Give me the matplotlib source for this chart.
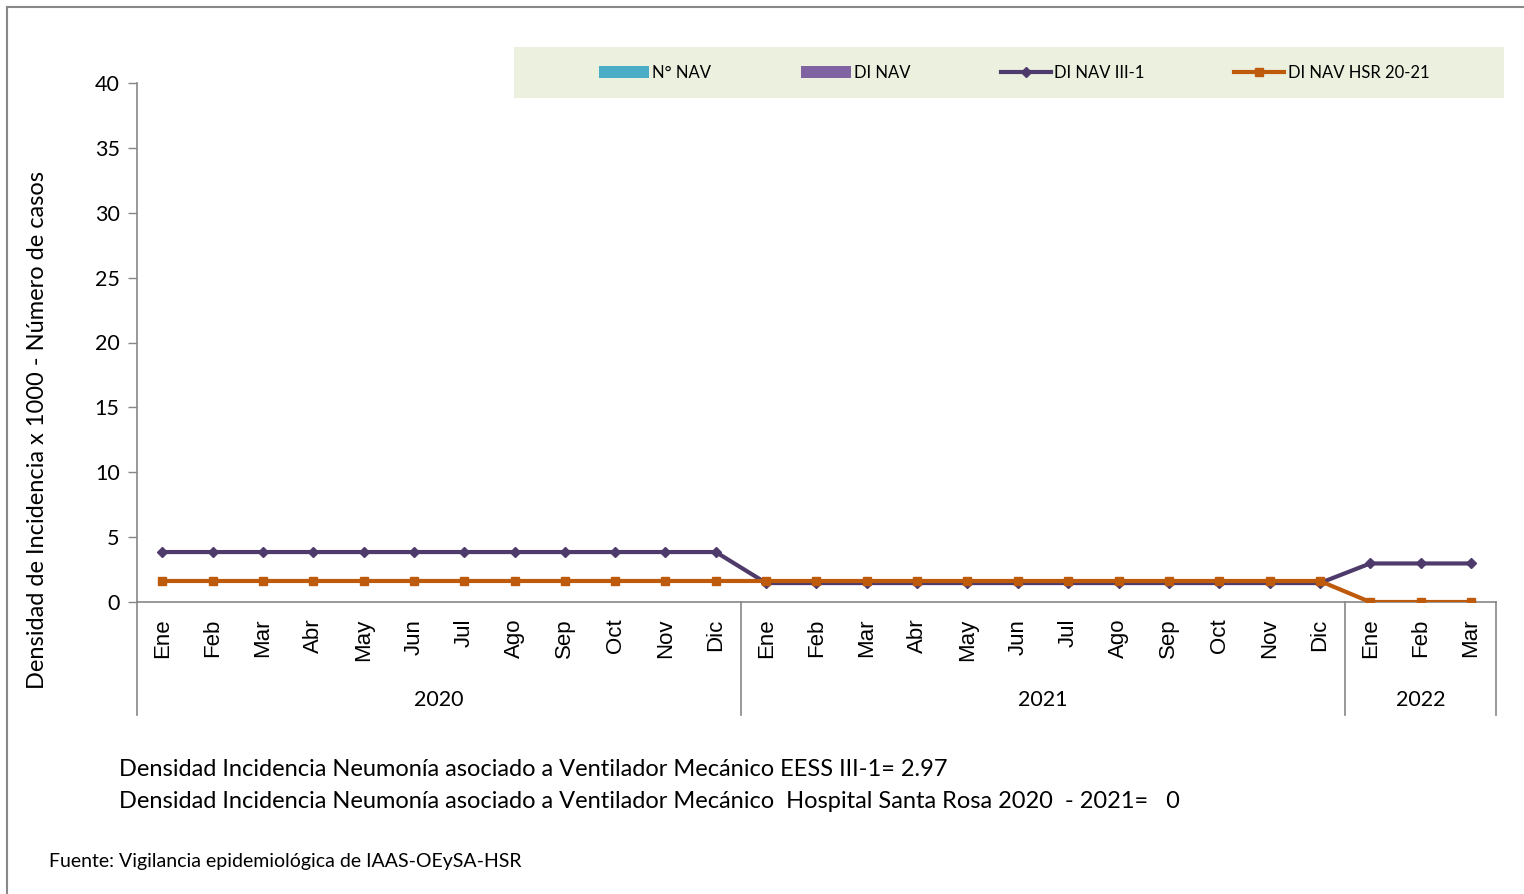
import numpy as np
import matplotlib.pyplot as plt
from matplotlib.lines import Line2D

months = ["Ene", "Feb", "Mar", "Abr", "May", "Jun", "Jul", "Ago", "Sep", "Oct", "Nov", "Dic",
          "Ene", "Feb", "Mar", "Abr", "May", "Jun", "Jul", "Ago", "Sep", "Oct", "Nov", "Dic",
          "Ene", "Feb", "Mar"]
years = ["2020", "2021", "2022"]
months_per_year = [12, 12, 3]

n_nav = [0, 0, 0, 0, 0, 0, 0, 0, 0, 0, 0, 0,
         0, 0, 0, 0, 0, 0, 0, 0, 0, 0, 0, 0,
         0, 0, 0]
di_nav = [0, 0, 0, 0, 0, 0, 0, 0, 0, 0, 0, 0,
          0, 0, 0, 0, 0, 0, 0, 0, 0, 0, 0, 0,
          0, 0, 0]
di_nav_iii1 = [3.85, 3.85, 3.85, 3.85, 3.85, 3.85, 3.85, 3.85, 3.85, 3.85, 3.85, 3.85,
               1.46, 1.46, 1.46, 1.46, 1.46, 1.46, 1.46, 1.46, 1.46, 1.46, 1.46, 1.46,
               2.97, 2.97, 2.97]
di_nav_hsr = [1.62, 1.62, 1.62, 1.62, 1.62, 1.62, 1.62, 1.62, 1.62, 1.62, 1.62, 1.62,
              1.62, 1.62, 1.62, 1.62, 1.62, 1.62, 1.62, 1.62, 1.62, 1.62, 1.62, 1.62,
              0, 0, 0]

W, H = 1524, 894
plt.rcParams['font.family'] = ['Lato', 'DejaVu Sans']

fig = plt.figure(figsize=(W / 100, H / 100), dpi=100)
ax = fig.add_axes([137 / W, 1 - 602 / H, (1496 - 137) / W, (602 - 83) / H])

x = np.arange(len(months))
b1 = ax.bar(x - 0.2, n_nav, width=0.4, color="#4BACC6", label="N° NAV")
b2 = ax.bar(x + 0.2, di_nav, width=0.4, color="#8064A2", label="DI NAV")
l1, = ax.plot(x, di_nav_iii1, color="#4F3B6B", lw=3, marker="D", markersize=5.5,
              label="DI NAV III-1", zorder=3)
l2, = ax.plot(x, di_nav_hsr, color="#BE5A0C", lw=3, marker="s", markersize=5.5,
              label="DI NAV HSR 20-21", zorder=4)

ax.set_xlim(-0.5, len(months) - 0.5)
ax.set_ylim(0, 40)
ax.set_yticks(np.arange(0, 41, 5))
ax.tick_params(axis="y", length=6.5, width=1, color="#868686", labelsize=15.5, pad=6)
ax.set_xticks(x)
ax.set_xticklabels(months, rotation=90, fontsize=16, family="Liberation Sans")
ax.tick_params(axis="x", length=0, pad=12)
for s in ["top", "right"]:
    ax.spines[s].set_visible(False)
for s in ["left", "bottom"]:
    ax.spines[s].set_color("#868686")
    ax.spines[s].set_linewidth(1.2)

# year groups
bounds = np.concatenate([[0], np.cumsum(months_per_year)]) - 0.5
trans = ax.get_xaxis_transform()
for b in bounds:
    ax.plot([b, b], [0, -0.218], color="#868686", lw=1.2, transform=trans, clip_on=False)
for i, yr in enumerate(years):
    ax.text((bounds[i] + bounds[i + 1]) / 2, -0.189, yr, transform=trans,
            ha="center", va="center", fontsize=15.5)

fig.text(38 / W, 1 - 430 / H, "Densidad de Incidencia x 1000 - Número de casos",
         rotation=90, ha="center", va="center", fontsize=17)

# legend box
fig.patches.append(plt.Rectangle((514 / W, 1 - 98 / H), (1504 - 514) / W, 51 / H,
                                 transform=fig.transFigure, facecolor="#EBF0DF",
                                 edgecolor="none", zorder=0))
fig.legend(handles=[b1, b2, l1, l2], loc="center", bbox_to_anchor=(1014 / W, 1 - 73 / H),
           ncol=4, frameon=False, fontsize=12, handlelength=3.0, handletextpad=0.2,
           columnspacing=5.4)

fig.text(119 / W, 1 - 770 / H,
         "Densidad Incidencia Neumonía asociado a Ventilador Mecánico EESS III-1= 2.97",
         ha="left", va="center", fontsize=17)
fig.text(119 / W, 1 - 801 / H,
         "Densidad Incidencia Neumonía asociado a Ventilador Mecánico  Hospital Santa Rosa 2020  - 2021=   0",
         ha="left", va="center", fontsize=17)
fig.text(49 / W, 1 - 861 / H, "Fuente: Vigilancia epidemiológica de IAAS-OEySA-HSR",
         ha="left", va="center", fontsize=14)

# outer border
fig.add_artist(Line2D([7 / W, 7 / W], [0, 1 - 7 / H], color="#888888", lw=1.5))
fig.add_artist(Line2D([7 / W, 1], [1 - 7 / H, 1 - 7 / H], color="#888888", lw=1.5))

fig.savefig("out.png", dpi=100)
